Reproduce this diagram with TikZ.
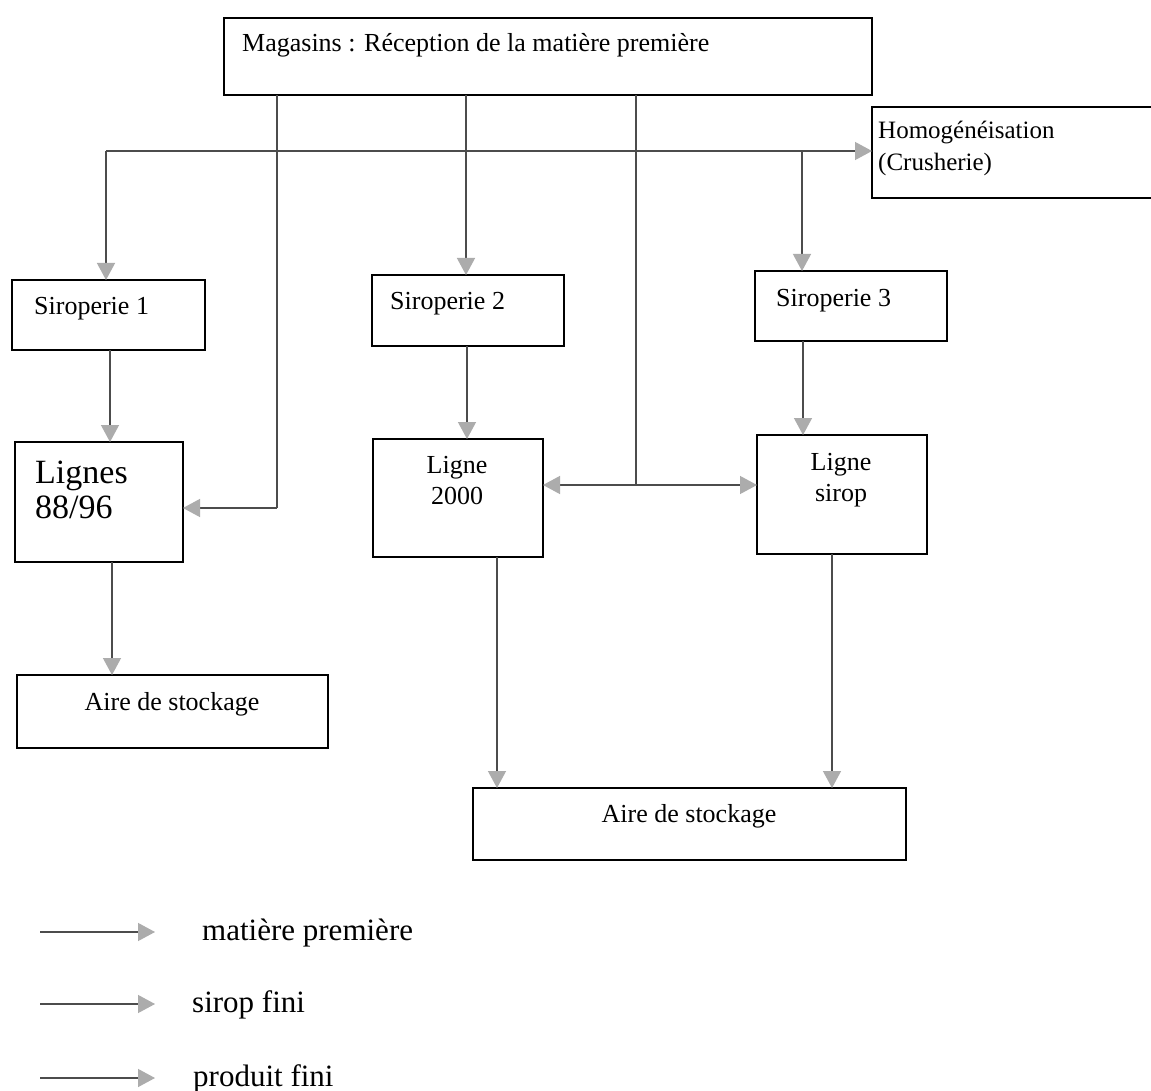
\documentclass[tikz,border=0pt]{standalone}
\usepackage{fontspec}
\setmainfont{Liberation Serif}
\usetikzlibrary{arrows.meta}
\begin{document}
\begin{tikzpicture}[x=1pt,y=-1pt,
  box/.style={draw=black, line width=1.8pt, anchor=north west, inner sep=0pt, outer sep=0pt},
  txt/.style={inner sep=0pt, font=\fontsize{26}{31}\selectfont},
  homtxt/.style={inner sep=0pt, font=\fontsize{25}{30}\selectfont},
  bigtxt/.style={inner sep=0pt, font=\fontsize{34}{40}\selectfont},
  legtxt/.style={inner sep=0pt, font=\fontsize{31}{37}\selectfont},
  conn/.style={draw=black!70, line width=1.3pt},
  arr/.style={conn, -{Triangle[length=17pt,width=18pt,fill=gray!65,color=gray!65]}}
]
\useasboundingbox (0,0) rectangle (1151,1091);
\fill[white] (0,0) rectangle (1151,1091);

% boxes
\node[box, minimum width=648pt, minimum height=77pt] (mag) at (224,18) {};
\node[box, minimum width=320pt, minimum height=91pt] (homog) at (872,107) {};
\node[box, minimum width=193pt, minimum height=70pt] (sir1) at (12,280) {};
\node[box, minimum width=192pt, minimum height=71pt] (sir2) at (372,275) {};
\node[box, minimum width=192pt, minimum height=70pt] (sir3) at (755,271) {};
\node[box, minimum width=168pt, minimum height=120pt] (lig1) at (15,442) {};
\node[box, minimum width=170pt, minimum height=118pt] (lig2) at (373,439) {};
\node[box, minimum width=170pt, minimum height=119pt] (lig3) at (757,435) {};
\node[box, minimum width=311pt, minimum height=73pt] (aire1) at (17,675) {};
\node[box, minimum width=433pt, minimum height=72pt] (aire2) at (473,788) {};

% texts
\node[txt, anchor=base west] (tmag) at (242,52) {Magasins : Réception de la matière première};
\node[homtxt, anchor=base west] (thom1) at (878,139) {Homogénéisation};
\node[homtxt, anchor=base west] (thom2) at (878,171) {(Crusherie)};
\node[txt, anchor=base west] (tsir1) at (34,314) {Siroperie 1};
\node[txt, anchor=base west] (tsir2) at (390,309) {Siroperie 2};
\node[txt, anchor=base west] (tsir3) at (776,307) {Siroperie 3};
\node[bigtxt, anchor=base west] (tlig1a) at (35,483) {Lignes};
\node[bigtxt, anchor=base west] (tlig1b) at (35,518) {88/96};
\node[txt, anchor=base] (tlig2a) at (457,473) {Ligne};
\node[txt, anchor=base] (tlig2b) at (457,504) {2000};
\node[txt, anchor=base] (tlig3a) at (841,470) {Ligne};
\node[txt, anchor=base] (tlig3b) at (841,501) {sirop};
\node[txt, anchor=base] (taire1) at (172,710) {Aire de stockage};
\node[txt, anchor=base] (taire2) at (689,822) {Aire de stockage};

% routing coordinates
\coordinate (hL) at (106,151);
\coordinate (hR) at (802,151);
\coordinate (pA) at (277,508);
\coordinate (pB) at (636,485);
\coordinate (c2) at (466,0);
\coordinate (d1) at (110,0);
\coordinate (d2) at (467,0);
\coordinate (d3) at (803,0);
\coordinate (e1) at (112,0);
\coordinate (e2) at (497,0);
\coordinate (e3) at (832,0);

% matière première connectors
\draw[arr] (hL) -- (hL -| homog.west);
\draw[arr] (hL) -- (sir1.north -| hL);
\draw[arr] (hR) -- (sir3.north -| hR);
\draw[arr] (mag.south -| c2) -- (sir2.north -| c2);
\draw[conn] (mag.south -| pA) -- (pA);
\draw[arr] (pA) -- (pA -| lig1.east);
\draw[conn] (mag.south -| pB) -- (pB);
\draw[arr] (pB) -- (pB -| lig2.east);
\draw[arr] (pB) -- (pB -| lig3.west);

% sirop fini
\draw[arr] (sir1.south -| d1) -- (lig1.north -| d1);
\draw[arr] (sir2.south -| d2) -- (lig2.north -| d2);
\draw[arr] (sir3.south -| d3) -- (lig3.north -| d3);

% produit fini
\draw[arr] (lig1.south -| e1) -- (aire1.north -| e1);
\draw[arr] (lig2.south -| e2) -- (aire2.north -| e2);
\draw[arr] (lig3.south -| e3) -- (aire2.north -| e3);

% legend
\coordinate (l1a) at (40,932); \coordinate (l1b) at (155,932);
\coordinate (l2a) at (40,1004); \coordinate (l2b) at (155,1004);
\coordinate (l3a) at (40,1078); \coordinate (l3b) at (155,1078);
\draw[arr] (l1a) -- (l1b);
\draw[arr] (l2a) -- (l2b);
\draw[arr] (l3a) -- (l3b);
\node[legtxt, anchor=base west] (leg1) at (202,940) {matière première};
\node[legtxt, anchor=base west] (leg2) at (192,1012) {sirop fini};
\node[legtxt, anchor=base west] (leg3) at (193,1086) {produit fini};
\end{tikzpicture}
\end{document}
